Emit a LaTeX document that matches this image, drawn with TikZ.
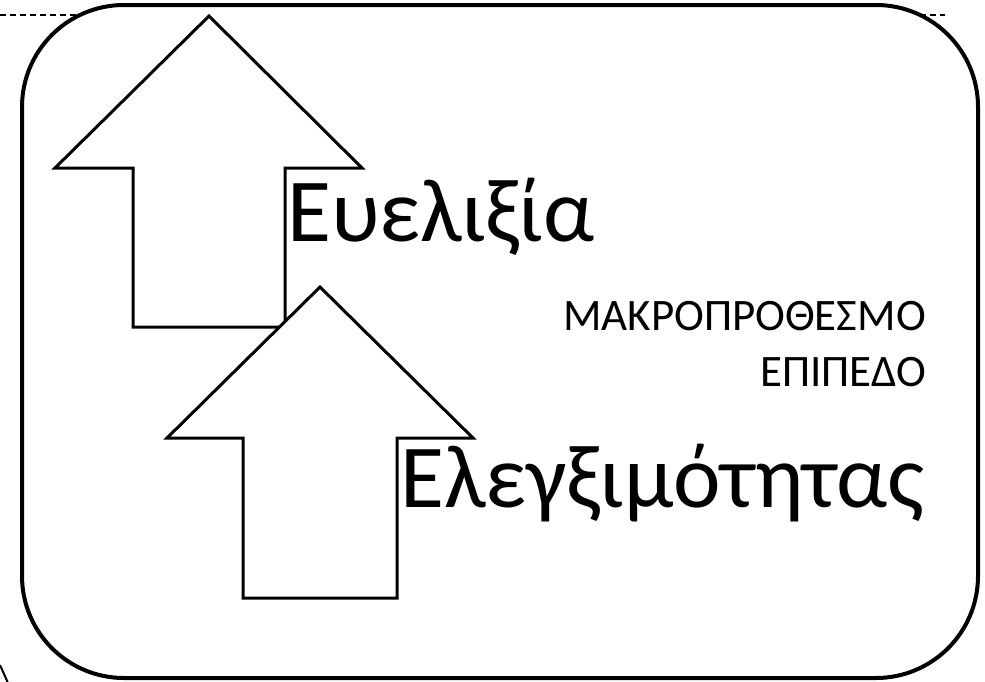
\documentclass[tikz,border=0pt]{standalone}
\usepackage{fontspec}
\setmainfont{Carlito}
\begin{document}
\begin{tikzpicture}[x=1pt,y=-1pt,
        upshape/.style={draw, line width=3pt, fill=white, line join=miter},
        bigword/.style={inner sep=0pt, anchor=base west, font=\fontsize{90}{108}\selectfont},
        smallword/.style={inner sep=0pt, anchor=base east, font=\fontsize{45}{54}\selectfont}]
        \useasboundingbox (0,0) rectangle (985,681);
        \draw[dashed, line width=1.3pt, dash pattern=on 6pt off 4pt] (0,15) -- (945,15);
        \draw[line width=2pt] (0,665) -- (8,683);
        \draw[line width=4pt, fill=white, rounded corners=102pt] (22,5) rectangle (978,678);
        % upper arrow, then the lower one over it
        \draw[upshape] (209,16) -- (362,168) -- (285,168) -- (285,327) -- (133,327)
            -- (133,168) -- (55,168) -- cycle;
        \draw[upshape] (320,287) -- (473,438) -- (397,438) -- (397,598) -- (243,598)
            -- (243,438) -- (167,438) -- cycle;
        \node[bigword] (flex) at (287,241) {Ευελιξία};
        \node[bigword] (ctrl) at (400,507) {Ελεγξιμότητας};
        \node[smallword] (term) at (926,330) {ΜΑΚΡΟΠΡΟΘΕΣΜΟ};
        \node[smallword] (level) at (926,386) {ΕΠΙΠΕΔΟ};
    \end{tikzpicture}
\end{document}
